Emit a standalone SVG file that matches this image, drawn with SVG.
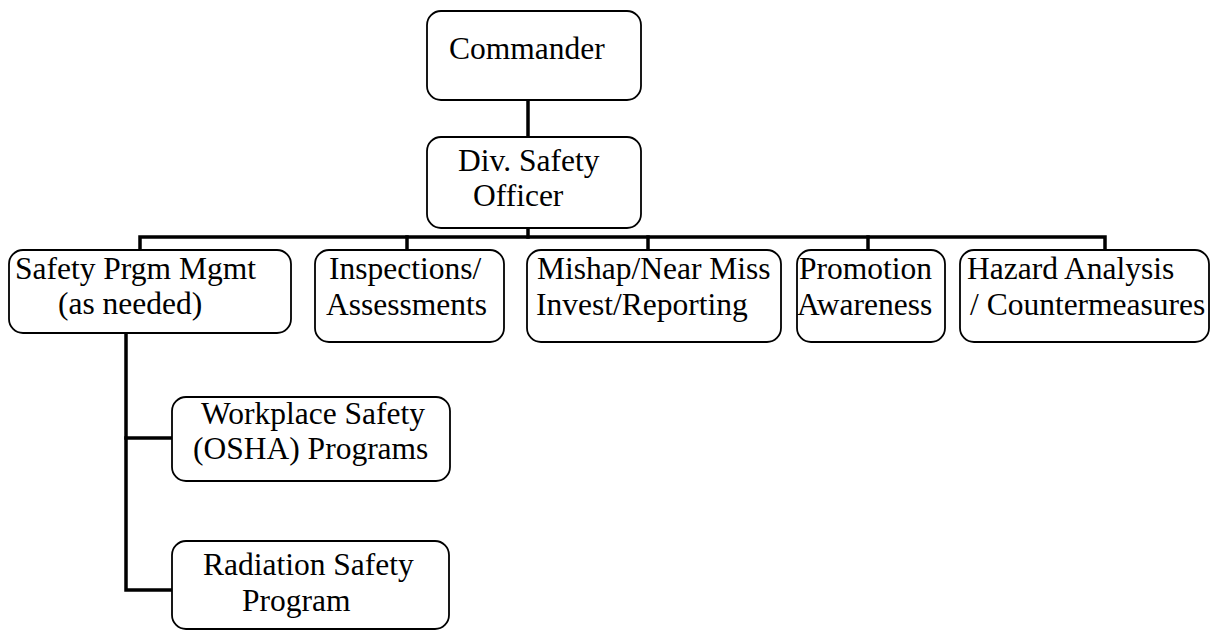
<svg xmlns="http://www.w3.org/2000/svg" width="1211" height="633" viewBox="0 0 1211 633">
<style>
.box{fill:#fff;stroke:#000;stroke-width:1.8}
.t{font-family:"Liberation Serif","Times New Roman",serif;font-size:31.5px;fill:#000}
.c{stroke:#000;stroke-width:3.5;fill:none;stroke-linecap:square}
</style>
<rect width="1211" height="633" fill="#fff"/>
<g id="connectors">
<line class="c" x1="528" y1="100" x2="528" y2="137"/>
<line class="c" x1="528" y1="228" x2="528" y2="237"/>
<polyline class="c" points="140,250 140,237 1105,237 1105,250"/>
<line class="c" x1="407" y1="237" x2="407" y2="250"/>
<line class="c" x1="648" y1="237" x2="648" y2="250"/>
<line class="c" x1="868" y1="237" x2="868" y2="250"/>
<polyline class="c" points="126,333 126,590 172,590"/>
<line class="c" x1="126" y1="438" x2="172" y2="438"/>
</g>
<g id="commander">
<rect class="box" x="427" y="11" width="214" height="89" rx="14"/>
<text class="t" x="449" y="59">Commander</text>
</g>
<g id="div-safety-officer">
<rect class="box" x="427" y="137" width="214" height="91" rx="14"/>
<text class="t" x="458" y="171">Div. Safety</text>
<text class="t" x="473" y="206">Officer</text>
</g>
<g id="safety-prgm-mgmt">
<rect class="box" x="9" y="250" width="282" height="83" rx="14"/>
<text class="t" x="15" y="279">Safety Prgm Mgmt</text>
<text class="t" x="58" y="314">(as needed)</text>
</g>
<g id="inspections">
<rect class="box" x="315" y="250" width="189" height="92" rx="14"/>
<text class="t" x="329" y="279">Inspections/</text>
<text class="t" x="326" y="315">Assessments</text>
</g>
<g id="mishap">
<rect class="box" x="527" y="250" width="254" height="92" rx="14"/>
<text class="t" x="537" y="279">Mishap/Near Miss</text>
<text class="t" x="536" y="315">Invest/Reporting</text>
</g>
<g id="promotion">
<rect class="box" x="797" y="250" width="148" height="92" rx="14"/>
<text class="t" x="799" y="279">Promotion</text>
<text class="t" x="797" y="315">Awareness</text>
</g>
<g id="hazard">
<rect class="box" x="960" y="250" width="249" height="92" rx="14"/>
<text class="t" x="967" y="279">Hazard Analysis</text>
<text class="t" x="970" y="315">/ Countermeasures</text>
</g>
<g id="workplace-safety">
<rect class="box" x="172" y="397" width="278" height="84" rx="14"/>
<text class="t" x="201" y="424">Workplace Safety</text>
<text class="t" x="193" y="459">(OSHA) Programs</text>
</g>
<g id="radiation-safety">
<rect class="box" x="172" y="541" width="277" height="88" rx="14"/>
<text class="t" x="203" y="575">Radiation Safety</text>
<text class="t" x="242" y="611">Program</text>
</g>
</svg>
